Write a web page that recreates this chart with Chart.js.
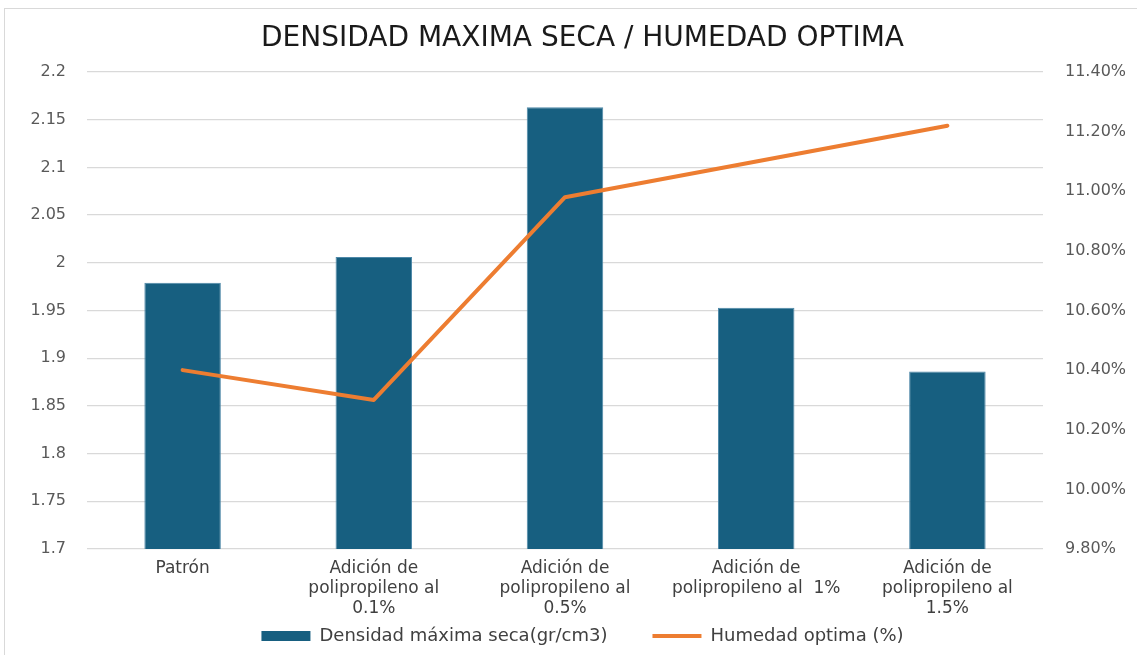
<!DOCTYPE html>
<html>
<head>
<meta charset="utf-8">
<script src="https://cdn.jsdelivr.net/npm/chart.js@4.4.1/dist/chart.umd.min.js"></script>
<style>
  html, body { margin: 0; padding: 0; background: #ffffff; }
  #wrap { position: relative; width: 1137px; height: 655px; overflow: hidden; }
  #frame { position: absolute; left: 4px; top: 8px; width: 1140px; height: 660px;
           border: 1px solid #d9d9d9; box-sizing: border-box; pointer-events: none; }
  canvas { display: block; }
</style>
</head>
<body>
<div id="wrap">
  <canvas id="c" width="1137" height="655"></canvas>
  <div id="frame"></div>
</div>
<script>
const categories = [
  ["Patrón"],
  ["Adición de", "polipropileno al", "0.1%"],
  ["Adición de", "polipropileno al", "0.5%"],
  ["Adición de", "polipropileno al  1%"],
  ["Adición de", "polipropileno al", "1.5%"]
];
const densidadMaxima = [1.979, 2.006, 2.163, 1.953, 1.886];
const humedadOptima = [10.40, 10.30, 10.98, 11.10, 11.22];
const leftTicks = { min: 1.7, max: 2.2, step: 0.05 };
const rightTicks = { min: 9.8, max: 11.4, step: 0.2 };
const seriesNames = ["Densidad máxima seca(gr/cm3)", "Humedad optima (%)"];
const titleText = "DENSIDAD MAXIMA SECA / HUMEDAD OPTIMA";

const FONT = "'DejaVu Sans', sans-serif";
const LEFT_PAD = 28;

new Chart(document.getElementById('c'), {
  data: {
    labels: categories,
    datasets: [
      {
        type: 'bar',
        label: seriesNames[0],
        data: densidadMaxima,
        backgroundColor: '#175F80',
        borderColor: '#4E88A8',
        borderWidth: 1,
        yAxisID: 'y',
        order: 1,
        barPercentage: 0.4,
        categoryPercentage: 1.0
      },
      {
        type: 'line',
        label: seriesNames[1],
        data: humedadOptima,
        borderColor: '#ED7D31',
        backgroundColor: '#ED7D31',
        borderWidth: 4,
        pointRadius: 0,
        pointHoverRadius: 0,
        tension: 0,
        borderCapStyle: 'round',
        borderJoinStyle: 'round',
        yAxisID: 'y1',
        order: 0
      }
    ]
  },
  options: {
    responsive: false,
    animation: false,
    devicePixelRatio: 1,
    layout: { padding: { left: LEFT_PAD, right: 0, top: 0, bottom: 0 } },
    plugins: {
      title: {
        display: true,
        text: titleText,
        color: '#1a1a1a',
        font: { family: FONT, size: 28, weight: 'normal', lineHeight: 1.2 },
        padding: { top: 22, bottom: 16.4 }
      },
      legend: {
        display: true,
        position: 'bottom',
        labels: {
          usePointStyle: true,
          pointStyleWidth: 49,
          boxHeight: 10,
          padding: 45,
          color: '#404040',
          font: { family: FONT, size: 18 },
          sort: (a, b) => a.datasetIndex - b.datasetIndex,
          generateLabels: (chart) => {
            const items = Chart.defaults.plugins.legend.labels.generateLabels(chart);
            items.forEach(it => {
              const ds = chart.data.datasets[it.datasetIndex];
              if (ds.type === 'bar') { it.pointStyle = 'rect'; it.lineWidth = 0; it.fillStyle = ds.backgroundColor; }
              else { it.pointStyle = 'line'; it.lineWidth = 4; it.strokeStyle = ds.borderColor; }
            });
            return items;
          }
        }
      },
      tooltip: { enabled: false }
    },
    scales: {
      x: {
        grid: { display: false, drawTicks: false },
        border: { display: false },
        ticks: {
          color: '#404040',
          font: { family: FONT, size: 17, lineHeight: 1.16 },
          padding: 10,
          maxRotation: 0,
          autoSkip: false
        },
        afterFit: (s) => {
          s.height = 33;
          s._computeLabelArea = () => undefined;
        }
      },
      y: {
        position: 'left',
        min: leftTicks.min,
        max: leftTicks.max,
        grid: { color: '#d9d9d9', lineWidth: 1.3, drawTicks: false },
        border: { display: false },
        ticks: {
          stepSize: leftTicks.step,
          color: '#595959',
          font: { family: FONT, size: 16 },
          padding: 21,
          callback: (v) => String(Number(Number(v).toFixed(2)))
        },
        afterFit: (s) => { s.width = 87 - LEFT_PAD; }
      },
      y1: {
        position: 'right',
        min: rightTicks.min,
        max: rightTicks.max,
        grid: { display: false, drawTicks: false },
        border: { display: false },
        ticks: {
          stepSize: rightTicks.step,
          color: '#595959',
          font: { family: FONT, size: 16 },
          padding: 22,
          callback: (v) => Number(v).toFixed(2) + '%'
        },
        afterFit: (s) => { s.width = 94; }
      }
    }
  }
});
</script>
</body>
</html>
